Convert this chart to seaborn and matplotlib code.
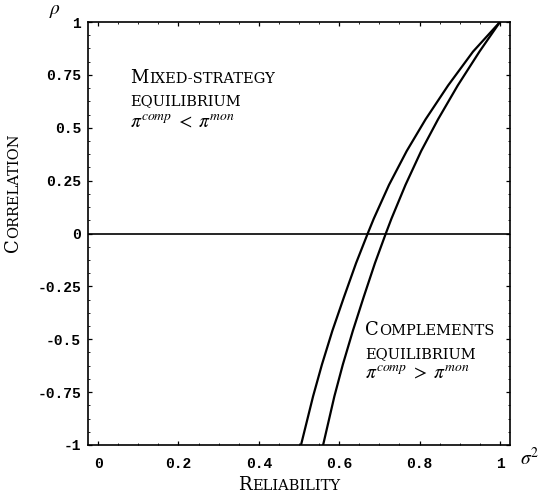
import numpy as np
import pandas as pd
import matplotlib
matplotlib.use("Agg")
import matplotlib.pyplot as plt
from matplotlib.transforms import IdentityTransform
import seaborn as sns

# ---- data ----
rho = [-1.0, -0.77, -0.62, -0.46, -0.30, -0.14, 0.0, 0.07, 0.23, 0.39, 0.54, 0.70, 0.86, 1.0]
sigma_left = [0.505, 0.535, 0.557, 0.583, 0.612, 0.642, 0.671, 0.686, 0.724, 0.768,
              0.815, 0.871, 0.933, 1.0]
sigma_right = [0.560, 0.588, 0.609, 0.634, 0.661, 0.689, 0.716, 0.730, 0.765, 0.804,
               0.846, 0.895, 0.949, 1.0]
x_ticks = [0, 0.2, 0.4, 0.6, 0.8, 1]
x_ticklabels = ["0", "0.2", "0.4", "0.6", "0.8", "1"]
y_ticks = [-1, -0.75, -0.5, -0.25, 0, 0.25, 0.5, 0.75, 1]
y_ticklabels = ["-1", "-0.75", "-0.5", "-0.25", "0", "0.25", "0.5", "0.75", "1"]

df = pd.DataFrame({
    "sigma": sigma_left + sigma_right,
    "rho": rho + rho,
    "curve": ["left"] * len(rho) + ["right"] * len(rho),
})

sns.set_theme(style="ticks")
plt.rcParams["mathtext.fontset"] = "stix"
SERIF = ["DejaVu Serif"]
MONO = ["Liberation Mono", "DejaVu Sans Mono"]

fig = plt.figure(figsize=(5.4, 4.95), dpi=100)
ax = fig.add_axes([88 / 540, 1 - 445 / 495, (510 - 88) / 540, (445 - 22) / 495])

sns.lineplot(data=df, x="sigma", y="rho", units="curve", estimator=None, sort=False,
             color="black", linewidth=1.6, ax=ax, legend=False)
ax.axhline(0, color="black", linewidth=1.2)

ax.set_xlim(-0.025, 1.025)
ax.set_ylim(-1, 1)
ax.set_xticks(x_ticks)
ax.set_xticklabels(x_ticklabels)
ax.set_yticks(y_ticks)
ax.set_yticklabels(y_ticklabels)
ax.set_xticks(np.arange(0, 1.01, 0.05), minor=True)
ax.set_yticks(np.arange(-1, 1.01, 0.0625), minor=True)
ax.tick_params(which="major", direction="in", length=3, width=0.9, top=True, right=True,
               labelsize=10.5, color="black")
ax.tick_params(which="minor", direction="in", length=1.5, width=0.7, top=True, right=True)
ax.tick_params(axis="x", pad=9)
ax.tick_params(axis="y", pad=5)
for lab in ax.get_xticklabels() + ax.get_yticklabels():
    lab.set_fontfamily(MONO)
    lab.set_fontweight("bold")
    lab.set_color("black")
for sp in ax.spines.values():
    sp.set_linewidth(1.2)
    sp.set_color("black")
ax.set_xlabel("")
ax.set_ylabel("")

fig.canvas.draw()
renderer = fig.canvas.get_renderer()


def small_caps(x, y, parts, transform, rotation=0):
    px, py = transform.transform((x, y))
    for s, size in parts:
        t = fig.text(px, py, s, transform=IdentityTransform(), size=size, family=SERIF,
                     ha="left", va="baseline", rotation=rotation, rotation_mode="anchor",
                     color="black")
        bb = t.get_window_extent(renderer)
        if rotation == 0:
            px += bb.width + 0.5
        else:
            py += bb.height + 0.5


BIG, SMALL = 13, 10.5
pix = IdentityTransform()

# upper-left annotation
small_caps(130, 495 - 83, [("M", BIG), ("IXED-STRATEGY", SMALL)], pix)
small_caps(130, 495 - 105, [("EQUILIBRIUM", SMALL)], pix)
fig.text(130, 495 - 128, r"$\pi^{comp}\;<\;\pi^{mon}$", transform=pix, size=14,
         ha="left", va="baseline", color="black")

# lower-right annotation
small_caps(365, 495 - 335, [("C", BIG), ("OMPLEMENTS", SMALL)], pix)
small_caps(365, 495 - 358, [("EQUILIBRIUM", SMALL)], pix)
fig.text(365, 495 - 379, r"$\pi^{comp}\;>\;\pi^{mon}$", transform=pix, size=14,
         ha="left", va="baseline", color="black")

# axis labels
small_caps(18, 495 - 252, [("C", BIG), ("ORRELATION", SMALL)], pix, rotation=90)
small_caps(238, 495 - 490, [("R", BIG), ("ELIABILITY", SMALL)], pix)

fig.text(55, 495 - 14, r"$\rho$", transform=pix, size=14, ha="center", va="baseline",
         color="black")
fig.text(520, 495 - 465, r"$\sigma^2$", transform=pix, size=14, ha="left", va="baseline",
         color="black")

fig.savefig("out.png", dpi=100)
